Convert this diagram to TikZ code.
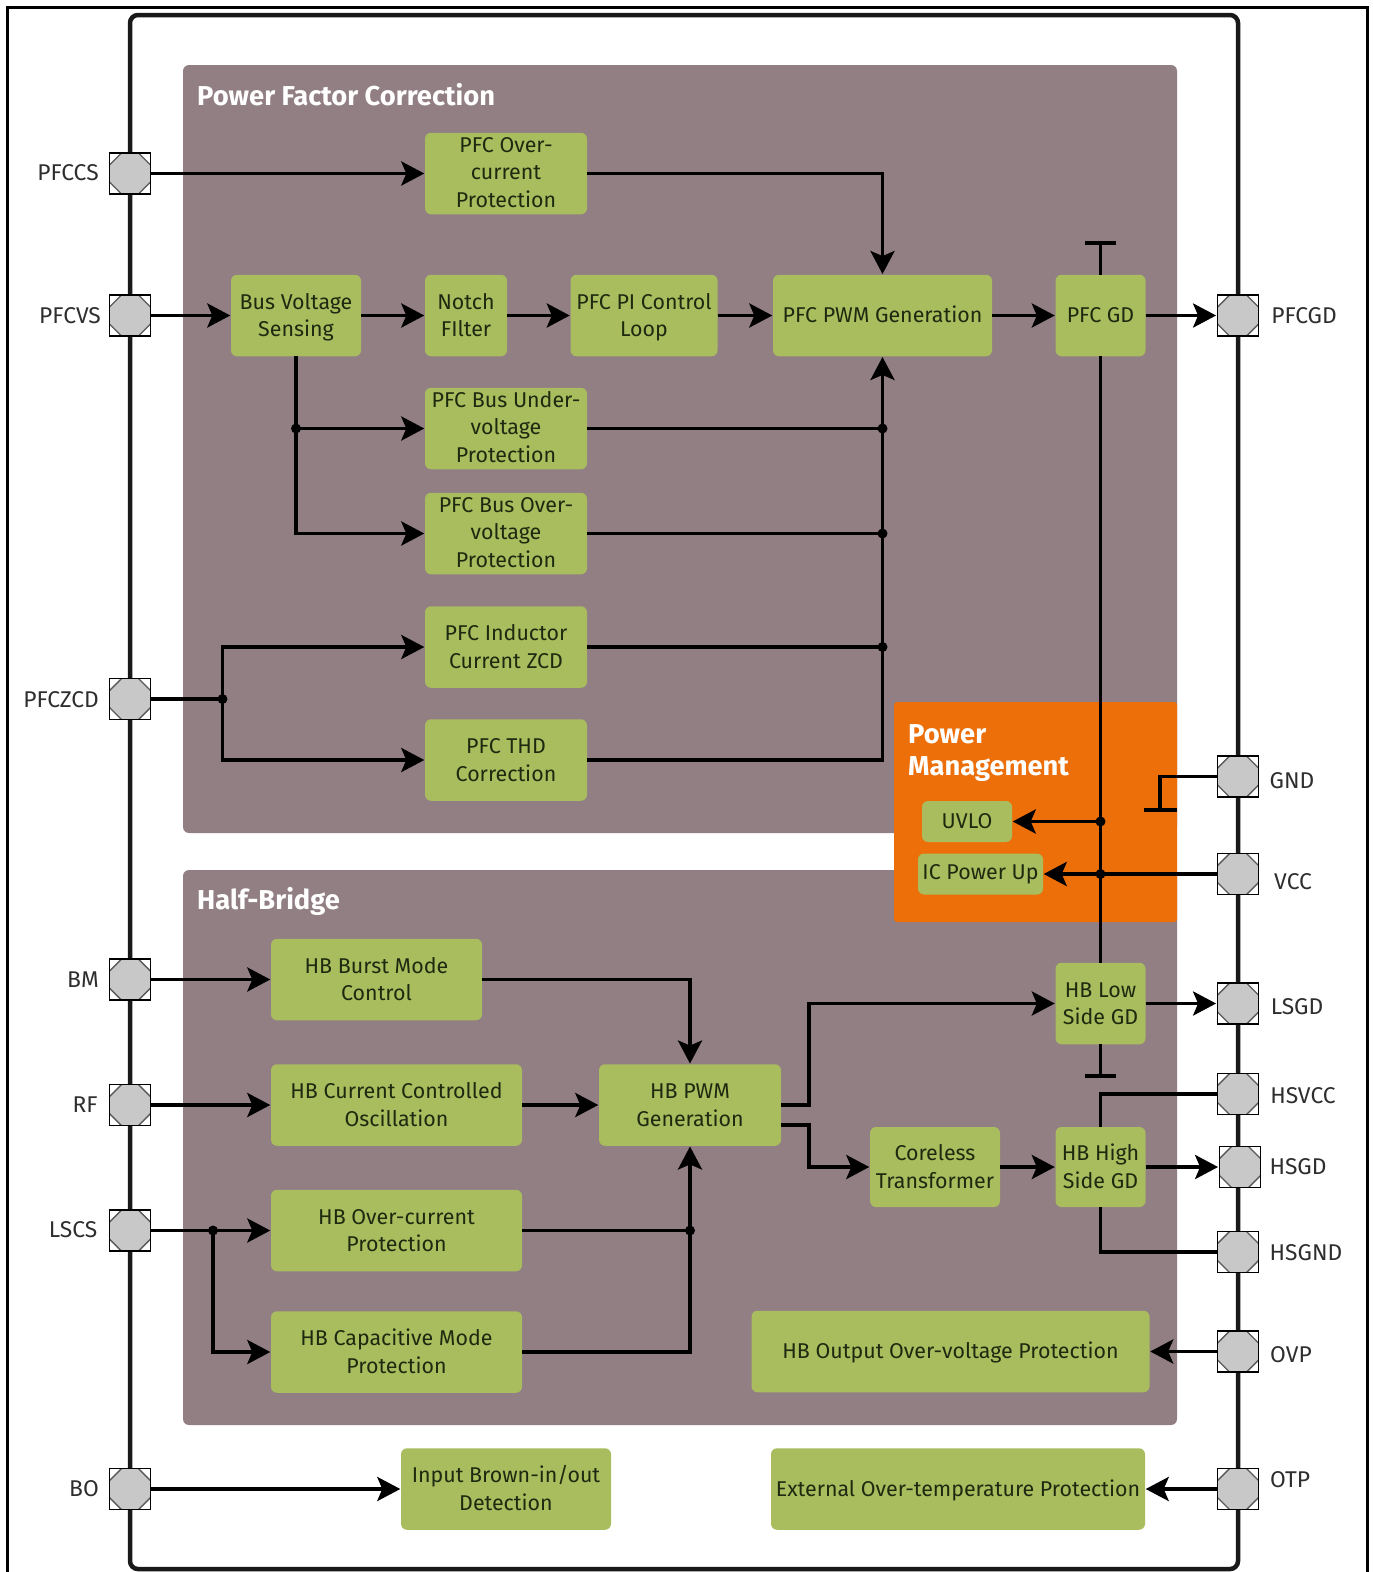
\documentclass[tikz,border=0pt]{standalone}
\usepackage{fontspec}
\setmainfont{Fira Sans}
\usetikzlibrary{arrows.meta}
\definecolor{panelgrey}{HTML}{917F84}
\definecolor{boxgreen}{HTML}{A9BC5E}
\definecolor{pmorange}{HTML}{EC6F0A}
\definecolor{padgrey}{HTML}{C8C8C8}
\definecolor{boxtext}{HTML}{1E2A10}
\definecolor{pintext}{HTML}{2E2E2E}
\tikzset{
  x=1pt,y=-1pt,
  panel/.style={draw=none,rounded corners=6pt,anchor=center,inner sep=0pt},
  gbox/.style={fill=boxgreen,rounded corners=6pt,draw=none,align=center,text=boxtext,inner sep=0pt,
    minimum height=81.5pt,text depth=6pt,font=\fontsize{21.4}{27.5}\selectfont},
  oneline/.style={gbox,text height=20pt},
  twolines/.style={gbox,text height=48pt},
  threelines/.style={gbox,text height=73pt},
  conn/.style={line width=3.8pt,draw=black,line join=miter},
  arr/.style={conn,-{Stealth[length=23pt,width=24pt,inset=5pt]},shorten >=0.5pt},
  dot/.style={circle,fill=black,inner sep=0pt,minimum size=10pt},
  padbox/.style={draw=black,line width=1.8pt,fill=white,minimum size=41pt,inner sep=0pt,
    path picture={\fill[padgrey,draw=black!65,line width=1.4pt]
      ([shift={(-21pt,-8pt)}]path picture bounding box.center)
      -- ++(13pt,-13pt) -- ++(16pt,0pt) -- ++(13pt,13pt) -- ++(0pt,16pt)
      -- ++(-13pt,13pt) -- ++(-16pt,0pt) -- ++(-13pt,-13pt) -- cycle;}},
  pinlabel/.style={text=pintext,inner sep=0pt,font=\fontsize{22.8}{26}\selectfont},
  paneltitle/.style={text=white,anchor=west,inner sep=0pt,align=left,font=\fontsize{27.3}{32}\selectfont\bfseries},
}
\begin{document}
\begin{tikzpicture}
\useasboundingbox (0,0) rectangle (1373,1572);
\fill[white] (0,0) rectangle (1373,1572);
% outer frame
\begin{scope}
\clip (0,0) rectangle (1373,1572);
\draw[line width=3pt,black] (7,7) rectangle (1367,1590);
\end{scope}
% chip frame
\draw[line width=4.5pt,black!90,rounded corners=8pt] (130,15) rectangle (1238,1569);
% panels
\node[panel,fill=panelgrey,minimum width=994pt,minimum height=768pt] (pfcpanel) at (680,449) {};
\node[panel,fill=panelgrey,minimum width=994pt,minimum height=555pt] (hbpanel) at (680,1147.5) {};
\node[panel,fill=pmorange,rounded corners=3pt,minimum width=283pt,minimum height=220pt] (pmpanel) at (1035.5,812) {};
\node[paneltitle] (pfctitle) at (197,95) {Power Factor Correction};
\node[paneltitle] (hbtitle) at (197,901) {Half-Bridge};
\node[paneltitle] (pmtitle) at (908,753) {Power\\Management};
% pads
\node[padbox] (pPFCCS) at (130,173.5) {};
\node[padbox] (pPFCVS) at (130,315.5) {};
\node[padbox] (pPFCZCD) at (130,699) {};
\node[padbox] (pBM) at (130,979.5) {};
\node[padbox] (pRF) at (130,1105) {};
\node[padbox] (pLSCS) at (130,1230.5) {};
\node[padbox] (pBO) at (130,1489) {};
\node[padbox] (pPFCGD) at (1238,315.5) {};
\node[padbox] (pGND) at (1238,776.5) {};
\node[padbox] (pVCC) at (1238,874) {};
\node[padbox] (pLSGD) at (1238,1003.5) {};
\node[padbox] (pHSVCC) at (1238,1094) {};
\node[padbox] (pHSGD) at (1240,1167) {};
\node[padbox] (pHSGND) at (1238,1252) {};
\node[padbox] (pOVP) at (1238,1351.5) {};
\node[padbox] (pOTP) at (1238,1489) {};
% pin labels
\node[pinlabel] (lPFCCS) at (68,172.5) {PFCCS};
\node[pinlabel] (lPFCVS) at (70,315.5) {PFCVS};
\node[pinlabel] (lPFCZCD) at (61,699.5) {PFCZCD};
\node[pinlabel] (lBM) at (83,979.5) {BM};
\node[pinlabel] (lRF) at (85,1104.5) {RF};
\node[pinlabel] (lLSCS) at (73,1229.5) {LSCS};
\node[pinlabel] (lBO) at (84,1489) {BO};
\node[pinlabel] (lPFCGD) at (1304,316) {PFCGD};
\node[pinlabel] (lGND) at (1292,781) {GND};
\node[pinlabel] (lVCC) at (1293,882) {VCC};
\node[pinlabel] (lLSGD) at (1297,1007) {LSGD};
\node[pinlabel] (lHSVCC) at (1303,1096) {HSVCC};
\node[pinlabel] (lHSGD) at (1298,1167) {HSGD};
\node[pinlabel] (lHSGND) at (1306,1253) {HSGND};
\node[pinlabel] (lOVP) at (1291,1355) {OVP};
\node[pinlabel] (lOTP) at (1290,1480) {OTP};
% boxes
\node[threelines,minimum width=162pt] (oc) at (506,173.5) {PFC Over-\\current\\Protection};
\node[twolines,minimum width=130pt] (bvs) at (296,315.5) {Bus Voltage\\Sensing};
\node[twolines,minimum width=82pt] (notch) at (466,315.5) {Notch\\FIlter};
\node[twolines,minimum width=147pt] (pi) at (644,315.5) {PFC PI Control\\Loop};
\node[oneline,minimum width=219pt] (pwm) at (882.5,315.5) {PFC PWM Generation};
\node[oneline,minimum width=90pt] (gd) at (1100.5,315.5) {PFC GD};
\node[threelines,minimum width=162pt] (under) at (506,428.5) {PFC Bus Under-\\voltage\\Protection};
\node[threelines,minimum width=162pt] (over) at (506,533.5) {PFC Bus Over-\\voltage\\Protection};
\node[twolines,minimum width=162pt] (ind) at (506,647) {PFC Inductor\\Current ZCD};
\node[twolines,minimum width=162pt] (thd) at (506,760) {PFC THD\\Correction};
\node[twolines,minimum width=211pt] (burst) at (376.5,979.5) {HB Burst Mode\\Control};
\node[twolines,minimum width=251pt] (cco) at (396.5,1105) {HB Current Controlled\\Oscillation};
\node[twolines,minimum width=251pt] (hboc) at (396.5,1230.5) {HB Over-current\\Protection};
\node[twolines,minimum width=251pt] (cap) at (396.5,1352) {HB Capacitive Mode\\Protection};
\node[twolines,minimum width=182pt] (hbpwm) at (690,1105) {HB PWM\\Generation};
\node[twolines,minimum width=90pt] (low) at (1100.5,1003.5) {HB Low\\Side GD};
\node[twolines,minimum width=130pt,minimum height=80pt] (coreless) at (935,1167) {Coreless\\Transformer};
\node[twolines,minimum width=90pt,minimum height=80pt] (high) at (1100.5,1167) {HB High\\Side GD};
\node[oneline,minimum width=398pt] (ovp) at (950.5,1351.5) {HB Output Over-voltage Protection};
\node[twolines,minimum width=210pt] (inbo) at (506,1489) {Input Brown-in/out\\Detection};
\node[oneline,minimum width=374pt] (ext) at (958,1489) {External Over-temperature Protection};
\node[oneline,minimum width=90pt,minimum height=41pt] (uvlo) at (967,821.5) {UVLO};
\node[oneline,text height=17pt,minimum width=125pt,minimum height=41pt] (icpu) at (980.5,874) {IC Power Up};
% free-end coordinates and T bars
\coordinate (gdtop) at (1100.5,243);
\coordinate (lowbot) at (1100.5,1076);
\coordinate (gndcorner) at (1160,776.5);
\coordinate (gndbar) at (1160,810);
\coordinate (zcdj) at (222.5,699);
\coordinate (lsj) at (213,1230.5);
\coordinate (hbup) at (809,1105);
\coordinate (hbdn) at (809,1125);
% PFC connectors
\draw[arr] (pPFCCS.east) -- (oc.west);
\draw[arr] (oc.east) -| (pwm.north);
\draw[arr] (pPFCVS.east) -- (bvs.west);
\draw[arr] (bvs.east) -- (notch.west);
\draw[arr] (notch.east) -- (pi.west);
\draw[arr] (pi.east) -- (pwm.west);
\draw[arr] (pwm.east) -- (gd.west);
\draw[arr] (gd.east) -- (pPFCGD.west);
\draw[arr] (bvs.south) |- (under.west);
\draw[arr] (bvs.south) |- (over.west);
\draw[conn] (under.east) -- (under.east -| pwm.south);
\draw[conn] (over.east) -- (over.east -| pwm.south);
\draw[conn] (ind.east) -- (ind.east -| pwm.south);
\draw[arr] (thd.east) -| (pwm.south);
\draw[conn] (pPFCZCD.east) -- (zcdj);
\draw[arr] (zcdj) |- (ind.west);
\draw[arr] (zcdj) |- (thd.west);
\node[dot] (j1) at (bvs.south |- under.west) {};
\node[dot] (j2) at (under.east -| pwm.south) {};
\node[dot] (j3) at (over.east -| pwm.south) {};
\node[dot] (j4) at (ind.east -| pwm.south) {};
\node[dot] (j5) at (zcdj) {};
% gate drive supply lines
\draw[conn] (gd.north) -- (gdtop);
\draw[conn] (1085,243) -- (1116,243);
\draw[conn] (gd.south) -- (low.north);
\draw[conn] (low.south) -- (lowbot);
\draw[conn] (1085,1076) -- (1116,1076);
\draw[conn] (pGND.west) -- (gndcorner) -- (gndbar);
\draw[conn] (1144,810) -- (1177,810);
\draw[arr] (uvlo.east -| low.north) -- (uvlo.east);
\draw[arr] (pVCC.west) -- (icpu.east);
\node[dot] (j6) at (uvlo.east -| low.north) {};
\node[dot] (j7) at (icpu.east -| low.north) {};
\draw[conn] (pHSVCC.west) -| (high.north);
\draw[conn] (pHSGND.west) -| (high.south);
% HB connectors
\draw[arr] (pBM.east) -- (burst.west);
\draw[arr] (pRF.east) -- (cco.west);
\draw[arr] (pLSCS.east) -- (hboc.west);
\draw[arr] (lsj) |- (cap.west);
\node[dot] (j8) at (lsj) {};
\draw[arr] (burst.east) -| (hbpwm.north);
\draw[arr] (cco.east) -- (hbpwm.west);
\draw[conn] (hboc.east) -- (hboc.east -| hbpwm.south);
\draw[arr] (cap.east) -| (hbpwm.south);
\node[dot] (j9) at (hboc.east -| hbpwm.south) {};
\draw[arr] (hbpwm.east) -- (hbup) |- (low.west);
\draw[arr] (hbpwm.east |- hbdn) -- (hbdn) |- (coreless.west);
\draw[arr] (coreless.east) -- (high.west);
\draw[arr] (low.east) -- (pLSGD.west);
\draw[arr] (high.east) -- (pHSGD.west);
\draw[arr] (pOVP.west) -- (ovp.east);
\draw[arr] (pOTP.west) -- (ext.east);
\draw[arr] (pBO.east) -- (inbo.west);
\end{tikzpicture}
\end{document}
